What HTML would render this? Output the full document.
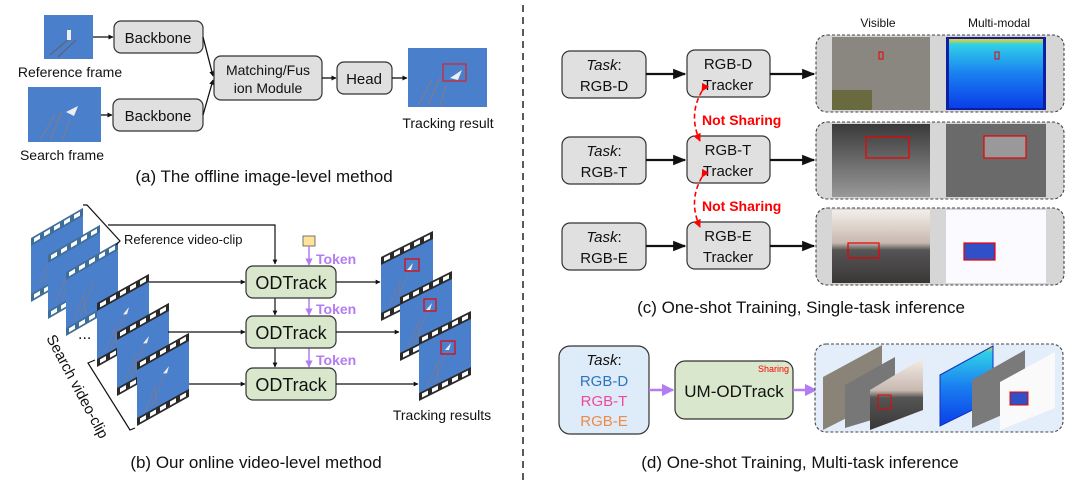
<!DOCTYPE html>
<html><head><meta charset="utf-8"><style>
html,body{margin:0;padding:0;background:#fff}
svg{display:block}
text{font-family:"Liberation Sans",sans-serif;fill:#111}
</style></head><body>
<svg width="1080" height="487" viewBox="0 0 1080 487" xmlns="http://www.w3.org/2000/svg">
<defs>
<marker id="ah" viewBox="0 0 10 10" refX="9" refY="5" markerWidth="6" markerHeight="6" orient="auto"><path d="M0,1 L10,5 L0,9 z" fill="#111"/></marker>
<marker id="ahb" viewBox="0 0 10 10" refX="9" refY="5" markerWidth="4" markerHeight="4" orient="auto"><path d="M0,0 L10,5 L0,10 z" fill="#111"/></marker>
<marker id="ahp" viewBox="0 0 10 10" refX="9" refY="5" markerWidth="5" markerHeight="5" orient="auto"><path d="M0,0 L10,5 L0,10 z" fill="#b37cf2"/></marker>
<marker id="ahr" viewBox="0 0 10 10" refX="9" refY="5" markerWidth="5" markerHeight="5" orient="auto"><path d="M0,0 L10,5 L0,10 z" fill="#f00"/></marker>
<g id="filmB">
<rect x="0" y="0" width="52" height="64" fill="#3f6f98"/>
<rect x="0" y="8" width="52" height="48" fill="#4a7fcc"/>
<g fill="#fff"><rect x="3" y="2" width="6" height="4"/><rect x="13" y="2" width="6" height="4"/><rect x="23" y="2" width="6" height="4"/><rect x="33" y="2" width="6" height="4"/><rect x="43" y="2" width="6" height="4"/>
<rect x="3" y="58" width="6" height="4"/><rect x="13" y="58" width="6" height="4"/><rect x="23" y="58" width="6" height="4"/><rect x="33" y="58" width="6" height="4"/><rect x="43" y="58" width="6" height="4"/></g>
<path d="M8,52 L20,30 M14,52 L28,26 M20,54 L18,36" stroke="#8a7a80" stroke-width="1" opacity=".7"/>
</g>
<g id="filmD">
<rect x="0" y="0" width="52" height="64" fill="#2a2a2a"/>
<rect x="0" y="8" width="52" height="48" fill="#4a7fcc"/>
<g fill="#fff"><rect x="3" y="2" width="6" height="4"/><rect x="13" y="2" width="6" height="4"/><rect x="23" y="2" width="6" height="4"/><rect x="33" y="2" width="6" height="4"/><rect x="43" y="2" width="6" height="4"/>
<rect x="3" y="58" width="6" height="4"/><rect x="13" y="58" width="6" height="4"/><rect x="23" y="58" width="6" height="4"/><rect x="33" y="58" width="6" height="4"/><rect x="43" y="58" width="6" height="4"/></g>
<path d="M8,54 L20,32 M14,54 L28,28 M20,54 L18,38" stroke="#8a7a80" stroke-width="1" opacity=".7"/>
<path d="M26,26 L32,22 L30,28 z" fill="#eee"/>
</g>
</defs>

<line x1="523" y1="5" x2="523" y2="482" stroke="#222" stroke-width="1.5" stroke-dasharray="7,5"/>

<!-- (a) -->
<rect x="44" y="15" width="49" height="44" fill="#4a7fcc"/>
<path d="M50,55 L70,38 M58,57 L76,40" stroke="#6a5a60" stroke-width="1"/>
<rect x="67" y="30" width="4" height="10" fill="#eee"/>
<text x="70" y="77" font-size="14" text-anchor="middle">Reference frame</text>
<rect x="28" y="87" width="73" height="55" fill="#4a7fcc"/>
<path d="M40,140 L55,115 M50,140 L62,112 M62,140 L70,120" stroke="#8a7a80" stroke-width="1"/>
<path d="M66,112 L78,106 L74,116 z" fill="#eee"/>
<text x="62" y="160" font-size="14" text-anchor="middle">Search frame</text>
<line x1="93" y1="37" x2="113" y2="37" stroke="#111" stroke-width="1.3" marker-end="url(#ahb)"/>
<line x1="101" y1="115" x2="112" y2="115" stroke="#111" stroke-width="1.3" marker-end="url(#ahb)"/>
<rect x="114" y="21" width="89" height="32" rx="7" fill="#e0e0e0" stroke="#333" stroke-width="1.2"/>
<text x="158" y="43" font-size="15" text-anchor="middle">Backbone</text>
<rect x="113" y="99" width="90" height="32" rx="7" fill="#e0e0e0" stroke="#333" stroke-width="1.2"/>
<text x="158" y="121" font-size="15" text-anchor="middle">Backbone</text>
<path d="M203,37 L213,76" stroke="#111" stroke-width="1.3" fill="none" marker-end="url(#ahb)"/>
<path d="M203,115 L213,80" stroke="#111" stroke-width="1.3" fill="none" marker-end="url(#ahb)"/>
<rect x="214" y="56" width="108" height="44" rx="7" fill="#e0e0e0" stroke="#333" stroke-width="1.2"/>
<text x="268" y="75" font-size="14" text-anchor="middle">Matching/Fus</text>
<text x="268" y="93" font-size="14" text-anchor="middle">ion Module</text>
<line x1="322" y1="78" x2="336" y2="78" stroke="#111" stroke-width="1.3" marker-end="url(#ahb)"/>
<rect x="337" y="62" width="55" height="32" rx="7" fill="#e0e0e0" stroke="#333" stroke-width="1.2"/>
<text x="364" y="84" font-size="15" text-anchor="middle">Head</text>
<line x1="392" y1="78" x2="407" y2="78" stroke="#111" stroke-width="1.3" marker-end="url(#ahb)"/>
<rect x="408" y="48" width="79" height="59" fill="#4a7fcc"/>
<path d="M418,105 L432,80 M428,105 L440,78 M440,106 L446,86" stroke="#8a7a80" stroke-width="1"/>
<path d="M450,78 L462,70 L458,80 z" fill="#eee"/>
<rect x="443" y="64" width="23" height="17" fill="none" stroke="#d22" stroke-width="1.2"/>
<text x="448" y="128" font-size="14" text-anchor="middle">Tracking result</text>
<text x="264" y="182" font-size="17" text-anchor="middle">(a) The offline image-level method</text>

<!-- (b) -->
<use href="#filmB" transform="matrix(1,-0.58,0,1,31,238)"/>
<use href="#filmB" transform="matrix(1,-0.58,0,1,48,255)"/>
<use href="#filmB" transform="matrix(1,-0.58,0,1,66,272)"/>
<use href="#filmD" transform="matrix(1,-0.56,0,1,97,303)"/>
<use href="#filmD" transform="matrix(1,-0.56,0,1,117,332)"/>
<use href="#filmD" transform="matrix(1,-0.56,0,1,137,362)"/>
<text x="78" y="339" font-size="16">...</text>
<path d="M83,205 L87,205 L120,241 L116,245" stroke="#111" fill="none" stroke-width="1.2"/>
<path d="M95,360 L88,363 L130,430 L135,428" stroke="#111" fill="none" stroke-width="1.2"/>
<text x="124" y="244" font-size="13">Reference video-clip</text>
<text transform="translate(46,338) rotate(62)" font-size="15">Search video-clip</text>
<path d="M108,225 L275,225 L275,264" stroke="#111" stroke-width="1.2" fill="none" marker-end="url(#ahb)"/>
<line x1="149" y1="282" x2="245" y2="282" stroke="#111" stroke-width="1.2" marker-end="url(#ahb)"/>
<line x1="168" y1="332" x2="245" y2="332" stroke="#111" stroke-width="1.2" marker-end="url(#ahb)"/>
<line x1="189" y1="384" x2="245" y2="384" stroke="#111" stroke-width="1.2" marker-end="url(#ahb)"/>
<line x1="275" y1="298" x2="275" y2="315" stroke="#111" stroke-width="1.2" marker-end="url(#ahb)"/>
<line x1="275" y1="348" x2="275" y2="367" stroke="#111" stroke-width="1.2" marker-end="url(#ahb)"/>
<rect x="303" y="236" width="12" height="10" fill="#fde49a" stroke="#555" stroke-width="0.8"/>
<line x1="309" y1="246" x2="309" y2="265" stroke="#b37cf2" stroke-width="1.5" marker-end="url(#ahp)"/>
<line x1="309" y1="298" x2="309" y2="315" stroke="#b37cf2" stroke-width="1.5" marker-end="url(#ahp)"/>
<line x1="309" y1="348" x2="309" y2="367" stroke="#b37cf2" stroke-width="1.5" marker-end="url(#ahp)"/>
<text x="316" y="264" font-size="14" font-weight="bold" style="fill:#b37cf2">Token</text>
<text x="316" y="314" font-size="14" font-weight="bold" style="fill:#b37cf2">Token</text>
<text x="316" y="365" font-size="14" font-weight="bold" style="fill:#b37cf2">Token</text>
<rect x="246" y="266" width="90" height="32" rx="7" fill="#d9e8cc" stroke="#333" stroke-width="1.2"/>
<rect x="246" y="316" width="90" height="32" rx="7" fill="#d9e8cc" stroke="#333" stroke-width="1.2"/>
<rect x="246" y="368" width="90" height="32" rx="7" fill="#d9e8cc" stroke="#333" stroke-width="1.2"/>
<text x="291" y="289" font-size="18" text-anchor="middle">ODTrack</text>
<text x="291" y="339" font-size="18" text-anchor="middle">ODTrack</text>
<text x="291" y="391" font-size="18" text-anchor="middle">ODTrack</text>
<line x1="336" y1="282" x2="380" y2="282" stroke="#111" stroke-width="1.2" marker-end="url(#ahb)"/>
<line x1="336" y1="332" x2="399" y2="332" stroke="#111" stroke-width="1.2" marker-end="url(#ahb)"/>
<line x1="336" y1="384" x2="418" y2="384" stroke="#111" stroke-width="1.2" marker-end="url(#ahb)"/>
<use href="#filmD" transform="matrix(1,-0.5,0,1,381,257)"/>
<use href="#filmD" transform="matrix(1,-0.5,0,1,400,297)"/>
<use href="#filmD" transform="matrix(1,-0.5,0,1,419,337)"/>
<rect x="405" y="259" width="14" height="12" fill="none" stroke="#e00" stroke-width="1.2"/>
<rect x="424" y="299" width="12" height="12" fill="none" stroke="#e00" stroke-width="1.2"/>
<rect x="441" y="341" width="14" height="13" fill="none" stroke="#e00" stroke-width="1.2"/>
<text x="442" y="420" font-size="14" text-anchor="middle">Tracking results</text>
<text x="256" y="468" font-size="17" text-anchor="middle">(b) Our online video-level method</text>

<!-- (c) -->
<text x="878" y="27" font-size="12" text-anchor="middle">Visible</text>
<text x="999" y="27" font-size="12" text-anchor="middle">Multi-modal</text>
<g font-size="15">
<rect x="562" y="51" width="84" height="47" rx="8" fill="#e0e0e0" stroke="#333" stroke-width="1.2"/>
<text x="604" y="70" text-anchor="middle"><tspan font-style="italic">Task</tspan>:</text><text x="604" y="91" text-anchor="middle">RGB-D</text>
<rect x="562" y="137" width="84" height="47" rx="8" fill="#e0e0e0" stroke="#333" stroke-width="1.2"/>
<text x="604" y="156" text-anchor="middle"><tspan font-style="italic">Task</tspan>:</text><text x="604" y="177" text-anchor="middle">RGB-T</text>
<rect x="562" y="223" width="84" height="47" rx="8" fill="#e0e0e0" stroke="#333" stroke-width="1.2"/>
<text x="604" y="242" text-anchor="middle"><tspan font-style="italic">Task</tspan>:</text><text x="604" y="263" text-anchor="middle">RGB-E</text>
<rect x="687" y="50" width="83" height="47" rx="8" fill="#e0e0e0" stroke="#333" stroke-width="1.2"/>
<text x="728" y="69" text-anchor="middle">RGB-D</text><text x="728" y="90" text-anchor="middle">Tracker</text>
<rect x="687" y="136" width="83" height="47" rx="8" fill="#e0e0e0" stroke="#333" stroke-width="1.2"/>
<text x="728" y="155" text-anchor="middle">RGB-T</text><text x="728" y="176" text-anchor="middle">Tracker</text>
<rect x="687" y="222" width="83" height="47" rx="8" fill="#e0e0e0" stroke="#333" stroke-width="1.2"/>
<text x="728" y="241" text-anchor="middle">RGB-E</text><text x="728" y="262" text-anchor="middle">Tracker</text>
</g>
<g stroke="#111" stroke-width="2.2" marker-end="url(#ah)">
<line x1="646" y1="74" x2="685" y2="74"/><line x1="646" y1="160" x2="685" y2="160"/><line x1="646" y1="246" x2="685" y2="246"/>
<line x1="770" y1="74" x2="814" y2="74"/><line x1="770" y1="160" x2="814" y2="160"/><line x1="770" y1="246" x2="814" y2="246"/>
</g>
<path d="M702,91 Q688,115 700,141" stroke="#f00" stroke-width="1.6" fill="none" stroke-dasharray="5,3" marker-end="url(#ahr)" marker-start="url(#ahr)"/>
<path d="M702,177 Q688,201 700,227" stroke="#f00" stroke-width="1.6" fill="none" stroke-dasharray="5,3" marker-end="url(#ahr)" marker-start="url(#ahr)"/>
<text x="702" y="125" font-size="14" font-weight="bold" style="fill:#f00">Not Sharing</text>
<text x="702" y="211" font-size="14" font-weight="bold" style="fill:#f00">Not Sharing</text>
<g stroke="#444" stroke-width="1.1" stroke-dasharray="3,2" fill="#d6d6d6">
<rect x="816" y="35" width="248" height="77" rx="11"/>
<rect x="816" y="122" width="248" height="77" rx="11"/>
<rect x="816" y="208" width="248" height="77" rx="11"/>
</g>
<defs>
<linearGradient id="jet" x1="0" y1="0" x2="0" y2="1"><stop offset="0" stop-color="#f5d020"/><stop offset=".08" stop-color="#30d0e8"/><stop offset=".5" stop-color="#1a80f0"/><stop offset="1" stop-color="#0a3ee8"/></linearGradient>
<linearGradient id="gry" x1="0" y1="0" x2="0" y2="1"><stop offset="0" stop-color="#3a3a3a"/><stop offset="1" stop-color="#999"/></linearGradient>
<linearGradient id="road" x1="0" y1="0" x2="0" y2="1"><stop offset="0" stop-color="#f4eee8"/><stop offset=".45" stop-color="#c8b8b0"/><stop offset=".55" stop-color="#555"/><stop offset="1" stop-color="#3a3636"/></linearGradient>
</defs>
<rect x="832" y="37" width="98" height="73" fill="#8a8680"/>
<rect x="832" y="90" width="40" height="20" fill="#6a6a40"/>
<rect x="946" y="37" width="100" height="73" fill="#0c1fa0"/>
<rect x="949" y="39" width="94" height="69" fill="url(#jet)"/>
<rect x="879" y="52" width="4" height="7" fill="none" stroke="#e00"/>
<rect x="995" y="52" width="4" height="7" fill="none" stroke="#e00"/>
<rect x="832" y="124" width="98" height="73" fill="url(#gry)"/>
<rect x="866" y="137" width="43" height="21" fill="none" stroke="#e00" stroke-width="1.2"/>
<rect x="946" y="124" width="100" height="73" fill="#6a6a6a"/>
<rect x="984" y="136" width="42" height="22" fill="#999"/><rect x="984" y="136" width="42" height="22" fill="none" stroke="#e00" stroke-width="1.2"/>
<rect x="832" y="210" width="98" height="73" fill="url(#road)"/>
<rect x="848" y="243" width="31" height="15" fill="none" stroke="#e00" stroke-width="1.2"/>
<rect x="946" y="210" width="100" height="73" fill="#fbfbff"/>
<rect x="964" y="243" width="31" height="17" fill="#3050c8"/><rect x="964" y="243" width="31" height="17" fill="none" stroke="#e00" stroke-width="1.2"/>
<text x="801" y="313" font-size="17" text-anchor="middle">(c) One-shot Training, Single-task inference</text>

<!-- (d) -->
<rect x="559" y="346" width="90" height="88" rx="11" fill="#deebf8" stroke="#333" stroke-width="1.2"/>
<text x="604" y="365" font-size="15" text-anchor="middle"><tspan font-style="italic">Task</tspan>:</text>
<text x="604" y="386" font-size="15" text-anchor="middle" style="fill:#2e75c0">RGB-D</text>
<text x="604" y="406" font-size="15" text-anchor="middle" style="fill:#f0499a">RGB-T</text>
<text x="604" y="426" font-size="15" text-anchor="middle" style="fill:#ee8a4a">RGB-E</text>
<line x1="649" y1="390" x2="673" y2="390" stroke="#b37cf2" stroke-width="2.5" marker-end="url(#ahp)"/>
<rect x="675" y="361" width="118" height="58" rx="10" fill="#d9e8cc" stroke="#333" stroke-width="1.2"/>
<text x="789" y="372" font-size="9" text-anchor="end" style="fill:#f00">Sharing</text>
<text x="734" y="397" font-size="17" text-anchor="middle">UM-ODTrack</text>
<line x1="793" y1="390" x2="816" y2="390" stroke="#b37cf2" stroke-width="2.5" marker-end="url(#ahp)"/>
<rect x="815" y="344" width="248" height="88" rx="11" fill="#e4eefa" stroke="#444" stroke-width="1.1" stroke-dasharray="3,2"/>
<polygon points="823,377 882,345 882,400 823,430" fill="#8a8478"/>
<polygon points="845,385 895,357 895,413 845,428" fill="#777"/>
<polygon points="870,390 923,358 923,410 870,430" fill="url(#road)"/>
<rect x="878" y="395" width="13" height="14" fill="none" stroke="#e00"/>
<polygon points="940,375 993,346 993,400 940,426" fill="url(#jet)" stroke="#1030c0"/>
<polygon points="972,380 1025,350 1025,405 972,428" fill="#7a7a7a"/>
<polygon points="1000,382 1055,352 1055,408 1000,430" fill="#fafafa"/>
<rect x="1010" y="392" width="18" height="13" fill="#3050c8" stroke="#e00"/>
<text x="800" y="468" font-size="17" text-anchor="middle">(d) One-shot Training, Multi-task inference</text>
</svg>
</body></html>
